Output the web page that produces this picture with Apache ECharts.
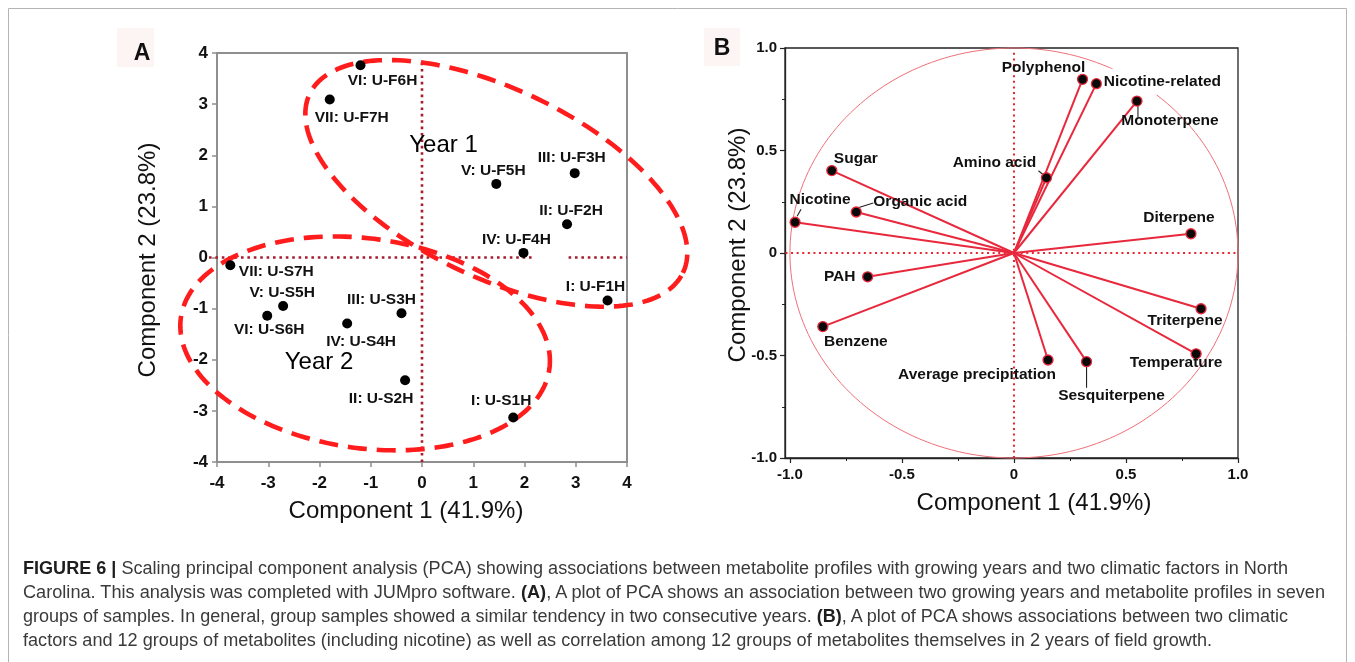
<!DOCTYPE html>
<html><head><meta charset="utf-8">
<script src="https://cdn.jsdelivr.net/npm/echarts@6/dist/echarts.min.js"></script>
<style>
html,body{margin:0;padding:0;background:#fff;}
#chart{position:absolute;left:0;top:0;width:1355px;height:662px;}
#cap{position:absolute;left:23px;top:556px;font-family:'Liberation Sans',Arial,sans-serif;font-size:17.5px;color:#3a3a3a;line-height:24px;}
#cap div{white-space:nowrap;display:block;height:24px;}
#cap span.l{display:inline-block;transform-origin:0 50%;}
#cap b{color:#1e1e1e;}
</style></head><body>
<div id="chart"></div>
<div id="cap"></div>
<script>
// ---------- data: panel A (sample scores) ----------
const sampleNames = ['I: U-F1H','II: U-F2H','III: U-F3H','IV: U-F4H','V: U-F5H','VI: U-F6H','VII: U-F7H',
                     'I: U-S1H','II: U-S2H','III: U-S3H','IV: U-S4H','V: U-S5H','VI: U-S6H','VII: U-S7H'];
const sampleX = [3.62, 2.83, 2.98, 1.98, 1.45, -1.20, -1.80, 1.78, -0.33, -0.40, -1.46, -2.71, -3.02, -3.74];
const sampleY = [-0.84, 0.65, 1.65, 0.09, 1.44, 3.76, 3.09, -3.13, -2.40, -1.09, -1.29, -0.95, -1.14, -0.15];
const groupNames = ['Year 1', 'Year 2'];
// ellipse: centre x, centre y, semi-axis a, semi-axis b, angle (deg)
const ellipseCX = [1.45, -1.11];
const ellipseCY = [1.45, -1.68];
const ellipseA = [4.04, 3.63];
const ellipseB = [1.84, 2.05];
const ellipseAngle = [-25.7, -8];
const ticksA = [-4, -3, -2, -1, 0, 1, 2, 3, 4];

// ---------- data: panel B (loadings) ----------
const metaboliteNames = ['Polyphenol','Nicotine-related','Monoterpene','Amino acid','Sugar','Nicotine','Organic acid',
                         'Diterpene','PAH','Benzene','Triterpene','Temperature','Average precipitation','Sesquiterpene'];
const loadingX = [0.306, 0.368, 0.549, 0.145, -0.813, -0.977, -0.704, 0.790, -0.653, -0.853, 0.835, 0.813, 0.152, 0.324];
const loadingY = [0.847, 0.826, 0.741, 0.367, 0.402, 0.150, 0.200, 0.094, -0.116, -0.359, -0.272, -0.492, -0.522, -0.530];
const ticksBMajor = [-1, -0.5, 0, 0.5, 1];
const ticksBMinor = [-0.75, -0.25, 0.25, 0.75];

// ---------- layout (pixel offsets, not data) ----------
const labelOffsetA = [[-12,-14],[4,-14],[-3,-15],[-7,-13],[-3,-13],[22,15],[22,18],
                      [-12,-17],[-24,19],[-20,-14],[14,18],[-1,-13],[2,14],[46,7]];
const groupLabelPos = [[0.42, 2.19], [-2.01, -2.05]];
const labelOffsetB = [[-39,-12],[66,0],[33,20],[-52,-15],[24,-12],[25,-23],[64,-10],
                      [-12,-16],[-28,0],[33,15],[-16,12],[-20,9],[-71,15],[25,34]];
const leaderB = {'Monoterpene':[[1,5],[1,16]], 'Amino acid':[[-8,-7],[-2,-2]], 'Nicotine':[[6,-13],[2,-6]],
                 'Organic acid':[[1,-4],[17,-9]], 'Sesquiterpene':[[0,5],[0,26]]};

const FF = "'Liberation Sans', Arial, sans-serif";
const chart = echarts.init(document.getElementById('chart'), null, {renderer:'canvas'});

function fmtB(v){ return v === 0 ? '0' : v.toFixed(1); }

function ellipsePoints(api, cx, cy, a, b, angDeg){
  const th = angDeg * Math.PI / 180, pts = [];
  for (let i = 0; i <= 200; i++) {
    const t = i / 200 * 2 * Math.PI;
    const x = cx + a * Math.cos(t) * Math.cos(th) - b * Math.sin(t) * Math.sin(th);
    const y = cy + a * Math.cos(t) * Math.sin(th) + b * Math.sin(t) * Math.cos(th);
    pts.push(api.coord([x, y]));
  }
  return pts;
}

const scatterA = sampleNames.map((n, i) => ({name:n, value:[sampleX[i], sampleY[i]], label:{offset:labelOffsetA[i]}}));
const scatterB = metaboliteNames.map((n, i) => {
  const it = {name:n, value:[loadingX[i], loadingY[i]], label:{offset:labelOffsetB[i]}};
  if (n === 'Nicotine-related') { it.label.backgroundColor = '#fff'; it.label.padding = [10,2,0,2]; it.label.offset = [66,-2]; }
  return it;
});
const leaderData = metaboliteNames.map((n, i) => leaderB[n] ? {name:n, value:[loadingX[i], loadingY[i]]} : null).filter(Boolean);

const labelStyle = {show:true, position:'inside', formatter:p=>p.name, fontSize:15.5, fontWeight:'bold', color:'#111', fontFamily:FF};

const option = {
  animation: false,
  backgroundColor: '#fff',
  textStyle: {fontFamily: FF},
  grid: [
    {left:217, top:53, width:410, height:409, show:true, borderColor:'#8f8f8f', borderWidth:2, backgroundColor:'transparent'},
    {left:785, top:48, width:453, height:410, show:true, borderColor:'#222', borderWidth:1.3, backgroundColor:'transparent'}
  ],
  xAxis: [
    {gridIndex:0, type:'value', position:'bottom', min:ticksA[0], max:ticksA[ticksA.length-1], interval:1,
     axisLine:{show:true, onZero:false, lineStyle:{color:'#8f8f8f', width:2}},
     axisTick:{show:true, length:5, lineStyle:{color:'#8f8f8f', width:1.5}},
     axisLabel:{fontSize:17, fontWeight:'bold', color:'#111', margin:13, fontFamily:FF},
     splitLine:{show:false}},
    {gridIndex:1, type:'value', position:'bottom', min:-1.022, max:1,
     axisLine:{show:true, onZero:false, lineStyle:{color:'#222', width:1.3}},
     axisTick:{show:true, length:5, customValues:ticksBMajor, lineStyle:{color:'#222', width:1.2}},
     axisLabel:{customValues:ticksBMajor, formatter:fmtB, fontSize:15, fontWeight:'bold', color:'#111', margin:9, fontFamily:FF},
     splitLine:{show:false}},
    {gridIndex:1, type:'value', position:'bottom', offset:0, min:-1.022, max:1,
     axisLine:{show:false, onZero:false},
     axisTick:{show:true, length:3, customValues:ticksBMinor, lineStyle:{color:'#222', width:1}},
     axisLabel:{show:false}, splitLine:{show:false}}
  ],
  yAxis: [
    {gridIndex:0, type:'value', min:ticksA[0], max:ticksA[ticksA.length-1], interval:1,
     axisLine:{show:true, onZero:false, lineStyle:{color:'#8f8f8f', width:2}},
     axisTick:{show:true, length:5, lineStyle:{color:'#8f8f8f', width:1.5}},
     axisLabel:{fontSize:17, fontWeight:'bold', color:'#111', margin:9, fontFamily:FF},
     splitLine:{show:false}},
    {gridIndex:1, type:'value', min:-1, max:1, interval:0.5,
     axisLine:{show:true, onZero:false, lineStyle:{color:'#222', width:1.3}},
     axisTick:{show:true, length:5, lineStyle:{color:'#222', width:1.2}},
     minorTick:{show:true, splitNumber:2, length:3, lineStyle:{color:'#222', width:1}},
     axisLabel:{formatter:fmtB, fontSize:15, fontWeight:'bold', color:'#111', margin:8, fontFamily:FF},
     splitLine:{show:false}, minorSplitLine:{show:false}}
  ],
  graphic: [
    {type:'rect', silent:true, shape:{x:8.5, y:8.5, width:1338, height:720}, style:{fill:null, stroke:'#b4b4b4', lineWidth:1}},
    {type:'rect', silent:true, shape:{x:117, y:28, width:37, height:39}, style:{fill:'#fcf5f3'}},
    {type:'text', x:142, y:54, style:{text:'A', font:'bold 23px '+FF, fill:'#111', textAlign:'center', textVerticalAlign:'middle'}},
    {type:'rect', silent:true, shape:{x:704, y:28, width:36, height:38}, style:{fill:'#fcf5f3'}},
    {type:'text', x:722, y:49, style:{text:'B', font:'bold 23px '+FF, fill:'#111', textAlign:'center', textVerticalAlign:'middle'}},
    {type:'text', x:406, y:511, style:{text:'Component 1 (41.9%)', font:'24px '+FF, fill:'#111', textAlign:'center', textVerticalAlign:'middle'}},
    {type:'text', x:148, y:260, rotation:Math.PI/2, style:{text:'Component 2 (23.8%)', font:'24px '+FF, fill:'#111', textAlign:'center', textVerticalAlign:'middle'}},
    {type:'text', x:1034, y:503, style:{text:'Component 1 (41.9%)', font:'24px '+FF, fill:'#111', textAlign:'center', textVerticalAlign:'middle'}},
    {type:'text', x:738, y:245, rotation:Math.PI/2, style:{text:'Component 2 (23.8%)', font:'24px '+FF, fill:'#111', textAlign:'center', textVerticalAlign:'middle'}}
  ],
  series: [
    // panel A reference dotted lines
    {type:'custom', xAxisIndex:0, yAxisIndex:0, silent:true, data:[[0,0]],
     renderItem:function(params, api){
       const st = {stroke:'#a51d2d', lineWidth:2.6, lineDash:[2.6,3.8]};
       const o = api.coord([0,0]);
       return {type:'group', children:[
         {type:'line', shape:{x1:o[0], y1:api.coord([0,-4])[1], x2:o[0], y2:api.coord([0,3.87])[1]}, style:st},
         {type:'line', shape:{x1:api.coord([-4,0])[0]-8, y1:o[1], x2:api.coord([2.15,0])[0], y2:o[1]}, style:st},
         {type:'line', shape:{x1:api.coord([2.86,0])[0], y1:o[1], x2:api.coord([4,0])[0], y2:o[1]}, style:st}
       ]};
     }},
    // panel A group ellipses
    {type:'custom', xAxisIndex:0, yAxisIndex:0, silent:true, clip:false,
     data: groupNames.map((g, i) => ({name:g, value:[ellipseCX[i], ellipseCY[i]]})),
     renderItem:function(params, api){
       const i = params.dataIndex;
       return {type:'polyline', shape:{points:ellipsePoints(api, ellipseCX[i], ellipseCY[i], ellipseA[i], ellipseB[i], ellipseAngle[i])},
               style:{fill:null, stroke:'#ff1c1c', lineWidth:4.6, lineDash:[19,10]}};
     }},
    // panel A group labels
    {type:'scatter', xAxisIndex:0, yAxisIndex:0, symbolSize:0, silent:true, itemStyle:{opacity:1},
     data: groupNames.map((g, i) => ({name:g, value:groupLabelPos[i]})),
     label:{show:true, position:'inside', formatter:p=>p.name, fontSize:24, color:'#000', fontFamily:FF}},
    // panel A samples
    {type:'scatter', xAxisIndex:0, yAxisIndex:0, symbol:'circle', symbolSize:10, silent:true,
     itemStyle:{color:'#000', opacity:1}, data: scatterA, label: labelStyle},
    // panel B unit circle and dotted axes
    {type:'custom', xAxisIndex:1, yAxisIndex:1, silent:true, clip:false, data:[[0,0]],
     renderItem:function(params, api){
       const st = {stroke:'#e8242c', lineWidth:2, lineDash:[2,3.6]};
       return {type:'group', children:[
         {type:'polyline', shape:{points:ellipsePoints(api, 0, 0, 1, 1, 0)}, style:{fill:null, stroke:'#f07078', lineWidth:1}},
         {type:'line', shape:{x1:api.coord([0,-1])[0], y1:api.coord([0,-1])[1], x2:api.coord([0,1])[0], y2:api.coord([0,0.98])[1]}, style:st},
         {type:'line', shape:{x1:api.coord([-1.02,0])[0], y1:api.coord([0,0])[1], x2:api.coord([1,0])[0], y2:api.coord([0,0])[1]}, style:st}
       ]};
     }},
    // panel B loading vectors
    {type:'custom', xAxisIndex:1, yAxisIndex:1, silent:true,
     data: metaboliteNames.map((n, i) => ({name:n, value:[loadingX[i], loadingY[i]]})),
     renderItem:function(params, api){
       const o = api.coord([0,0]), p = api.coord([api.value(0), api.value(1)]);
       return {type:'line', shape:{x1:o[0], y1:o[1], x2:p[0], y2:p[1]}, style:{stroke:'#e8283c', lineWidth:2}};
     }},
    // panel B leader lines
    {type:'custom', xAxisIndex:1, yAxisIndex:1, silent:true, data: leaderData,
     renderItem:function(params, api){
       const nm = leaderData[params.dataIndex].name, seg = leaderB[nm];
       const p = api.coord([api.value(0), api.value(1)]);
       return {type:'line', shape:{x1:p[0]+seg[0][0], y1:p[1]+seg[0][1], x2:p[0]+seg[1][0], y2:p[1]+seg[1][1]},
               style:{stroke:'#222', lineWidth:1.1}};
     }},
    // panel B endpoints + labels
    {type:'scatter', xAxisIndex:1, yAxisIndex:1, symbol:'circle', symbolSize:10, silent:true,
     itemStyle:{color:'#0a0a0a', borderColor:'#e8283c', borderWidth:1.3, opacity:1}, data: scatterB, label: labelStyle}
  ]
};
chart.setOption(option);

// ---------- caption ----------
const captionLines = [
  '<b>FIGURE 6 |</b> Scaling principal component analysis (PCA) showing associations between metabolite profiles with growing years and two climatic factors in North',
  'Carolina. This analysis was completed with JUMpro software. <b>(A)</b>, A plot of PCA shows an association between two growing years and metabolite profiles in seven',
  'groups of samples. In general, group samples showed a similar tendency in two consecutive years. <b>(B)</b>, A plot of PCA shows associations between two climatic',
  'factors and 12 groups of metabolites (including nicotine) as well as correlation among 12 groups of metabolites themselves in 2 years of field growth.'
];
const captionWidths = [1265, 1302, 1265, 1189];
const cap = document.getElementById('cap');
captionLines.forEach((html, i) => {
  const d = document.createElement('div');
  const s = document.createElement('span');
  s.className = 'l'; s.innerHTML = html;
  d.appendChild(s); cap.appendChild(d);
  const w = s.getBoundingClientRect().width;
  if (w > 0) s.style.transform = 'scaleX(' + (captionWidths[i] / w) + ')';
});
</script>
</body></html>
